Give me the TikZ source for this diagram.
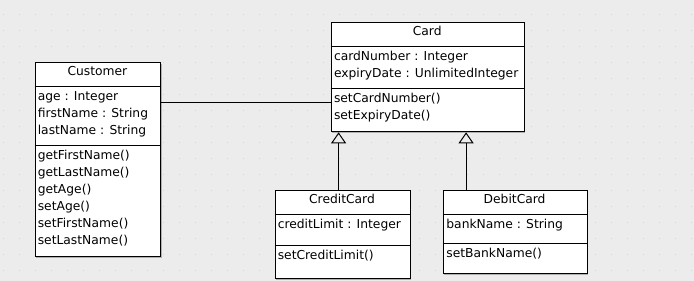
\documentclass[tikz,border=0pt]{standalone}
\usepackage{fontspec}
\setmainfont{DejaVu Sans}
\usetikzlibrary{arrows.meta,shadows}
\definecolor{bgcol}{HTML}{ECECEC}
\definecolor{dotcol}{HTML}{D6D6D6}
\begin{document}
\begin{tikzpicture}[x=1pt,y=-1pt,
  box/.style={draw, line width=1pt, fill=white, inner sep=0pt, anchor=north west,
    drop shadow={shadow xshift=1pt, shadow yshift=-1pt, fill=black, opacity=0.25}},
  sepline/.style={line width=1pt},
  txt/.style={anchor=base west, inner sep=0pt, font=\fontsize{12.3}{14}\selectfont},
  ttl/.style={anchor=base, inner sep=0pt, font=\fontsize{12.3}{14}\selectfont},
  assoc/.style={line width=1pt},
  gen/.style={line width=1pt, -{Triangle[open, width=15pt, length=11pt, line width=1pt]}}]
\fill[bgcol] (0,0) rectangle (694,281);
\useasboundingbox (0,0) rectangle (694,281);
\foreach \i in {0,...,43}{\foreach \j in {0,...,16}{
  \fill[dotcol] (2.5+16*\i,13.5+16*\j) rectangle +(1.5,1.5);}}
% boxes
\node[box, minimum width=125.7pt, minimum height=194pt] (cust) at (34.5,62.3) {};
\node[box, minimum width=193pt, minimum height=109pt] (card) at (330.7,22.3) {};
\node[box, minimum width=135pt, minimum height=88pt] (credit) at (274.5,190.3) {};
\node[box, minimum width=143.8pt, minimum height=83pt] (debit) at (442.7,190.3) {};
\coordinate (y1) at (0,86.3);
\coordinate (y2) at (0,145.3);
\coordinate (y3) at (0,46.7);
\coordinate (y4) at (0,88.3);
\coordinate (y5) at (0,214);
\coordinate (y6) at (0,245.7);
\coordinate (y7) at (0,214.3);
\coordinate (y8) at (0,243.3);
\draw[sepline] (cust.west |- y1) -- (cust.east |- y1);
\draw[sepline] (cust.west |- y2) -- (cust.east |- y2);
\draw[sepline] (card.west |- y3) -- (card.east |- y3);
\draw[sepline] (card.west |- y4) -- (card.east |- y4);
\draw[sepline] (credit.west |- y5) -- (credit.east |- y5);
\draw[sepline] (credit.west |- y6) -- (credit.east |- y6);
\draw[sepline] (debit.west |- y7) -- (debit.east |- y7);
\draw[sepline] (debit.west |- y8) -- (debit.east |- y8);
% connectors
\coordinate (ya) at (0,102.3);
\draw[assoc] (cust.east |- ya) -- (card.west |- ya);
\coordinate (g1) at (338.6,0);
\coordinate (g2) at (466.1,0);
\draw[gen] (credit.north -| g1) -- (card.south -| g1);
\draw[gen] (debit.north -| g2) -- (card.south -| g2);
% texts
\node[ttl] (custT) at (97.4,75.9) {Customer};
\node[txt] (ca1) at (37.6,100.9) {age : Integer};
\node[txt] (ca2) at (37.6,117.9) {firstName : String};
\node[txt] (ca3) at (37.6,134.5) {lastName : String};
\node[txt] (cm1) at (37.6,159.9) {getFirstName()};
\node[txt] (cm2) at (37.6,176.9) {getLastName()};
\node[txt] (cm3) at (37.6,193.9) {getAge()};
\node[txt] (cm4) at (37.6,210.9) {setAge()};
\node[txt] (cm5) at (37.6,227.9) {setFirstName()};
\node[txt] (cm6) at (37.6,244.9) {setLastName()};
\node[ttl] (cardT) at (427.2,35.5) {Card};
\node[txt] (da1) at (333.8,60.9) {cardNumber : Integer};
\node[txt] (da2) at (333.8,77.5) {expiryDate : UnlimitedInteger};
\node[txt] (dm1) at (333.8,102.9) {setCardNumber()};
\node[txt] (dm2) at (333.8,119.9) {setExpiryDate()};
\node[ttl] (crT) at (342,203.5) {CreditCard};
\node[txt] (ra1) at (277.6,228.5) {creditLimit : Integer};
\node[txt] (rm1) at (277.6,259.9) {setCreditLimit()};
\node[ttl] (dbT) at (514.6,203.5) {DebitCard};
\node[txt] (ba1) at (446.2,228.5) {bankName : String};
\node[txt] (bm1) at (446.2,257.9) {setBankName()};
\end{tikzpicture}
\end{document}
